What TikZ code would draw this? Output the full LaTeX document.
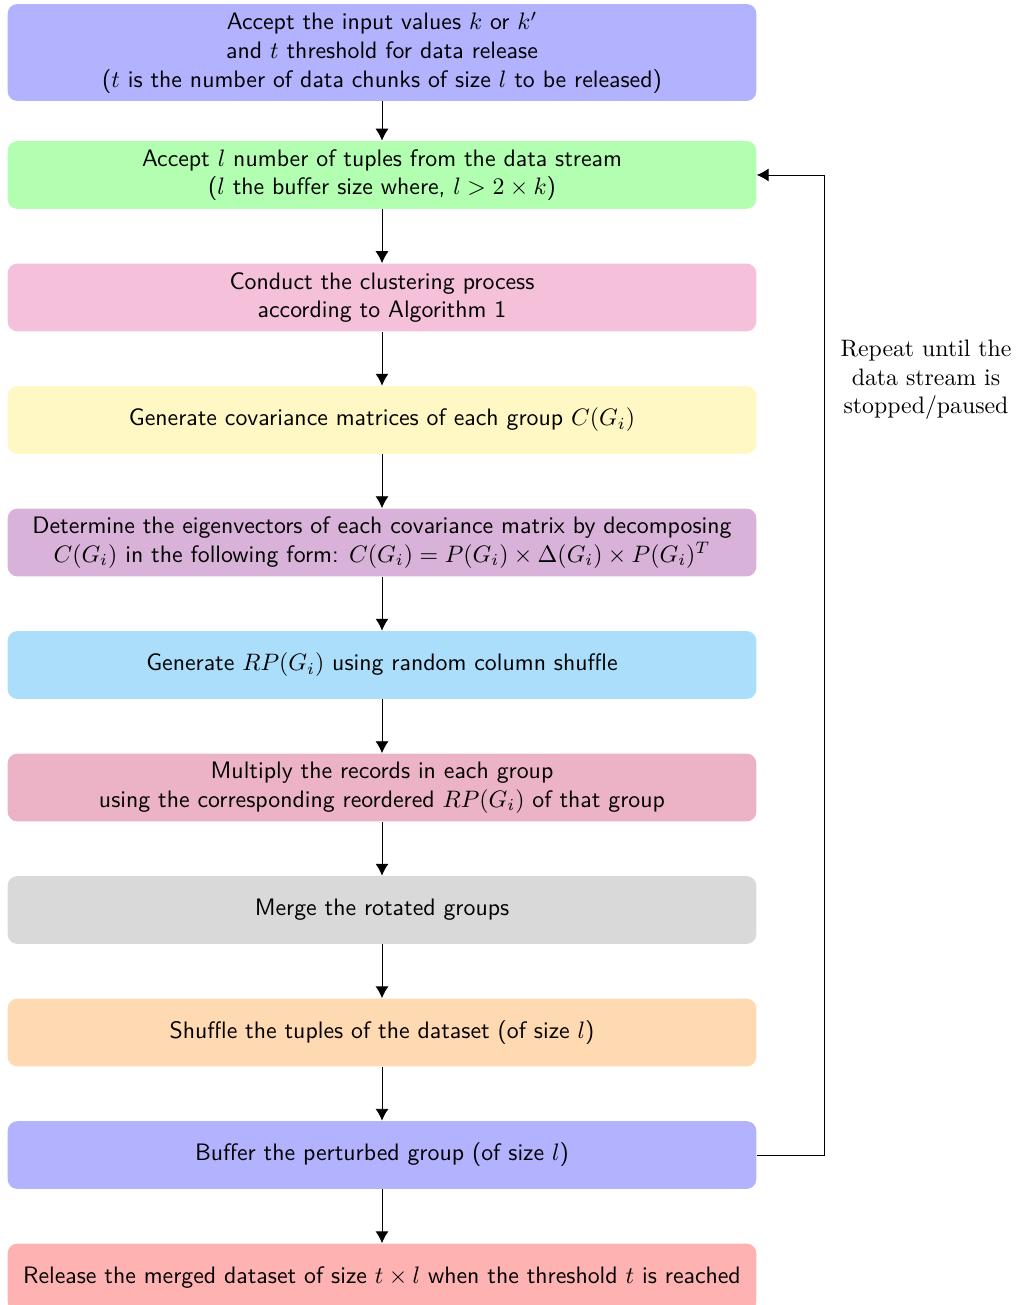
\documentclass[tikz,border=0pt]{standalone}
\usepackage{tikz}
\usetikzlibrary{arrows.meta}
\definecolor{pinkbox}{RGB}{245,192,218}
\definecolor{yellowbox}{RGB}{255,248,196}
\definecolor{skybox}{RGB}{170,222,250}

\begin{document}
\begin{tikzpicture}
    \useasboundingbox (0,0) rectangle (15.018,-19.271);
    \begin{scope}
        \tikzstyle{every node}=[rounded corners=4pt, text width=10.82cm, align=flush center, minimum height=1cm, font=\sffamily, text=black]
        \node[fill=blue!30] (0) at (5.641,-0.775) {Accept the input values $k$ or $k'$\\ and $t$ threshold for data release\\ ($t$ is the number of data chunks of size $l$ to be released)};
        \node[fill=green!30] (1) at (5.641,-2.584) {Accept $l$ number of tuples from the data stream\\ ($l$ the buffer size where, $l > 2\times k$)};
        \node[fill=pinkbox] (2) at (5.641,-4.393) {Conduct the clustering process\\ according to Algorithm 1};
        \node[fill=yellowbox] (3) at (5.641,-6.202) {Generate covariance matrices of each group $C(G_i)$};
        \node[fill=violet!30] (4) at (5.641,-8.011) {Determine the eigenvectors of each covariance matrix by decomposing\\ $C(G_i)$ in the following form: $C(G_i) = P(G_i)\times\Delta(G_i)\times P(G_i)^T$};
        \node[fill=skybox] (5) at (5.641,-9.820) {Generate $RP(G_i)$ using random column shuffle};
        \node[fill=purple!30] (6) at (5.641,-11.629) {Multiply the records in each group\\ using the corresponding reordered $RP(G_i)$ of that group};
        \node[fill=gray!30] (7) at (5.641,-13.438) {Merge the rotated groups};
        \node[fill=orange!30] (8) at (5.641,-15.247) {Shuffle the tuples of the dataset (of size $l$)};
        \node[fill=blue!30] (9) at (5.641,-17.056) {Buffer the perturbed group (of size $l$)};
        \node[fill=red!30] (10) at (5.641,-18.865) {Release the merged dataset of size $t\times l$ when the threshold $t$ is reached};
    \end{scope}
    \node[align=center] (note) at (13.674,-5.612) {Repeat until the\\ data stream is\\ stopped/paused};
    \begin{scope}[>={Latex[length=5pt, width=5.5pt]}]
        \tikzstyle{every edge}=[draw, ->]
        \path
        (0) edge (1)
        (1) edge (2)
        (2) edge (3)
        (3) edge (4)
        (4) edge (5)
        (5) edge (6)
        (6) edge (7)
        (7) edge (8)
        (8) edge (9)
        (9) edge (10);
        \draw[->] (9.east) -- ++(1,0) |- (1.east);
    \end{scope}
\end{tikzpicture}
\end{document}
